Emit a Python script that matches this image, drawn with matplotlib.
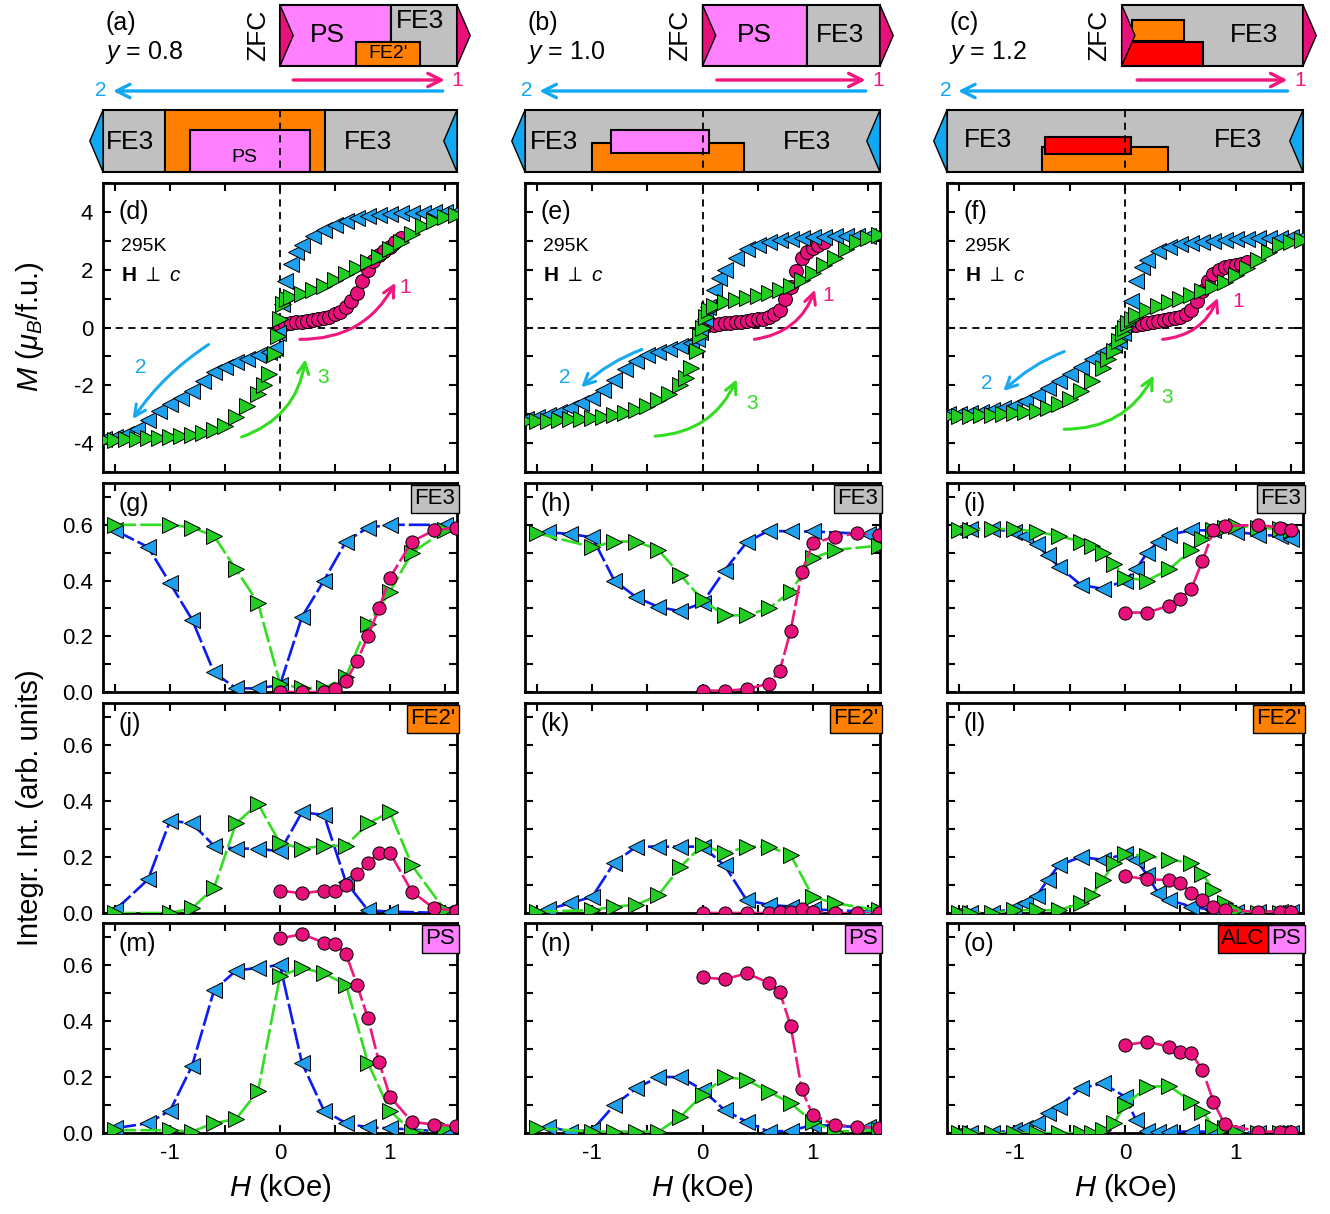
import numpy as np
import matplotlib.pyplot as plt
from matplotlib.patches import Rectangle, Polygon
from matplotlib.ticker import MultipleLocator, FormatStrFormatter

plt.rcParams['font.family'] = ['Liberation Sans', 'DejaVu Sans']
plt.rcParams['mathtext.fontset'] = 'custom'
plt.rcParams['mathtext.rm'] = 'Liberation Sans'
plt.rcParams['mathtext.it'] = 'Liberation Sans:italic'
plt.rcParams['mathtext.bf'] = 'Liberation Sans:bold'
plt.rcParams['axes.unicode_minus'] = False

# ---------------- magnetization loops M(H), panels d, e, f ----------------
H_loop_down = [-1.6, -1.5, -1.4, -1.3, -1.2, -1.1, -1.0, -0.9, -0.8, -0.7, -0.6, -0.5, -0.4,
               -0.3, -0.2, -0.1, -0.05, -0.02, 0.02, 0.05, 0.1, 0.15, 0.2, 0.3, 0.4, 0.5,
               0.6, 0.7, 0.8, 0.9, 1.0, 1.1, 1.2, 1.3, 1.4, 1.5, 1.6]
H_loop_up = [-1.6, -1.5, -1.4, -1.3, -1.2, -1.1, -1.0, -0.9, -0.8, -0.7, -0.6, -0.5, -0.4,
             -0.3, -0.2, -0.15, -0.1, -0.05, -0.02, 0.0, 0.03, 0.06, 0.1, 0.2, 0.3, 0.4,
             0.5, 0.6, 0.7, 0.8, 0.9, 1.0, 1.1, 1.2, 1.3, 1.4, 1.5, 1.6]
H_loop_zfc = [0.0, 0.05, 0.1, 0.15, 0.2, 0.25, 0.3, 0.35, 0.4, 0.45, 0.5, 0.55, 0.6, 0.65,
              0.7, 0.75, 0.8, 0.85, 0.9, 0.95, 1.0, 1.05, 1.1]

M_d_down = [-3.85, -3.78, -3.68, -3.5, -3.2, -2.9, -2.65, -2.45, -2.2, -1.85, -1.55, -1.35,
            -1.2, -1.08, -0.95, -0.85, -0.7, -0.2, 0.8, 1.6, 2.2, 2.6, 2.85, 3.15, 3.38,
            3.55, 3.68, 3.78, 3.85, 3.9, 3.93, 3.95, 3.96, 3.97, 3.98, 4.0, 4.0]
M_d_up = [-3.9, -3.88, -3.87, -3.85, -3.84, -3.82, -3.8, -3.77, -3.72, -3.65, -3.55, -3.4,
          -3.1, -2.7, -2.3, -2.0, -1.6, -0.9, -0.3, 0.3, 0.8, 1.0, 1.05, 1.15, 1.3, 1.45,
          1.65, 1.85, 2.05, 2.25, 2.45, 2.7, 2.95, 3.25, 3.5, 3.7, 3.82, 3.9]
M_d_zfc = [0.05, 0.12, 0.15, 0.18, 0.2, 0.22, 0.25, 0.28, 0.32, 0.38, 0.45, 0.55, 0.7, 0.9,
           1.2, 1.6, 2.0, 2.3, 2.5, 2.65, 2.8, 2.95, 3.1]

M_e_down = [-3.17, -3.1, -3.03, -2.93, -2.78, -2.62, -2.45, -2.15, -1.8, -1.45, -1.15, -0.95,
            -0.85, -0.75, -0.65, -0.55, -0.4, -0.15, 0.3, 0.7, 1.3, 1.7, 2.0, 2.4, 2.7,
            2.85, 2.95, 3.02, 3.07, 3.1, 3.12, 3.14, 3.15, 3.16, 3.17, 3.18, 3.2]
M_e_up = [-3.25, -3.24, -3.22, -3.2, -3.18, -3.15, -3.12, -3.08, -3.02, -2.95, -2.85, -2.7,
          -2.5, -2.3, -2.0, -1.75, -1.4, -0.8, -0.3, 0.0, 0.35, 0.6, 0.75, 0.87, 0.95, 1.02,
          1.1, 1.2, 1.31, 1.45, 1.65, 1.9, 2.15, 2.4, 2.7, 2.95, 3.1, 3.2]
M_e_zfc = [0.05, 0.08, 0.1, 0.12, 0.14, 0.16, 0.18, 0.2, 0.22, 0.25, 0.28, 0.31, 0.36, 0.45,
           0.6, 0.97, 1.4, 1.95, 2.4, 2.6, 2.75, 2.86, 2.95]

M_f_down = [-3.0, -2.98, -2.95, -2.92, -2.87, -2.8, -2.7, -2.55, -2.35, -2.1, -1.85, -1.6,
            -1.35, -1.1, -0.85, -0.6, -0.45, -0.2, 0.3, 0.9, 1.6, 2.1, 2.35, 2.65, 2.8,
            2.88, 2.93, 2.97, 3.0, 3.03, 3.05, 3.07, 3.09, 3.1, 3.11, 3.12, 3.13]
M_f_up = [-3.07, -3.06, -3.05, -3.04, -3.02, -3.0, -2.97, -2.94, -2.9, -2.8, -2.66, -2.47,
          -2.2, -1.85, -1.4, -1.1, -0.8, -0.45, -0.2, 0.0, 0.15, 0.3, 0.42, 0.62, 0.75,
          0.87, 0.98, 1.12, 1.25, 1.4, 1.57, 1.8, 2.07, 2.35, 2.62, 2.85, 2.97, 3.03]
M_f_zfc = [0.05, 0.08, 0.1, 0.13, 0.16, 0.19, 0.22, 0.25, 0.28, 0.32, 0.36, 0.45, 0.6, 0.9,
           1.25, 1.6, 1.85, 2.0, 2.08, 2.13, 2.17, 2.2, 2.25]

# ---------------- integrated intensities, panels g - o ----------------
# field grids per column (descending branch, ascending branch, virgin ZFC branch)
H_down = [[-1.5, -1.2, -1.0, -0.8, -0.6, -0.4, -0.2, 0.0, 0.2, 0.4, 0.6, 0.8, 1.0, 1.5],
          [-1.4, -1.2, -1.0, -0.8, -0.6, -0.4, -0.2, 0.0, 0.2, 0.4, 0.6, 0.8, 1.0, 1.5],
          [-1.5, -1.4, -1.2, -1.0, -0.9, -0.8, -0.7, -0.6, -0.4, -0.2, 0.0, 0.1, 0.2, 0.3,
           0.4, 0.6, 0.8, 1.0, 1.2, 1.4, 1.5]]
H_up = [[-1.5, -1.0, -0.8, -0.6, -0.4, -0.2, 0.0, 0.2, 0.4, 0.6, 0.8, 1.0, 1.2, 1.5],
        [-1.5, -1.0, -0.8, -0.6, -0.4, -0.2, 0.0, 0.2, 0.4, 0.6, 0.8, 1.0, 1.2, 1.6],
        [-1.5, -1.4, -1.2, -1.0, -0.8, -0.6, -0.4, -0.3, -0.2, -0.1, 0.0, 0.2, 0.4, 0.6,
         0.7, 0.8, 0.9, 1.0, 1.2, 1.4, 1.5]]
H_zfc = [[0.0, 0.2, 0.4, 0.5, 0.6, 0.7, 0.8, 0.9, 1.0, 1.2, 1.4, 1.6],
         [0.0, 0.2, 0.4, 0.6, 0.7, 0.8, 0.9, 1.0, 1.2, 1.4, 1.6],
         [0.0, 0.2, 0.4, 0.5, 0.6, 0.7, 0.8, 0.9, 1.2, 1.4, 1.5]]

# FE3 row
I_g_down = [0.58, 0.52, 0.39, 0.26, 0.07, 0.013, 0.013, 0.025, 0.27, 0.40, 0.54, 0.59, 0.60, 0.60]
I_g_up = [0.60, 0.60, 0.59, 0.56, 0.44, 0.32, 0.03, 0.013, 0.013, 0.055, 0.245, 0.36, 0.50, 0.58]
I_g_zfc = [0.0, 0.0, 0.0, 0.01, 0.04, 0.11, 0.20, 0.30, 0.41, 0.54, 0.58, 0.59]
I_h_down = [0.573, 0.567, 0.555, 0.40, 0.34, 0.305, 0.29, 0.32, 0.436, 0.537, 0.579, 0.576, 0.576, 0.567]
I_h_up = [0.57, 0.52, 0.54, 0.54, 0.51, 0.42, 0.33, 0.275, 0.275, 0.30, 0.36, 0.48, 0.51, 0.525]
I_h_zfc = [0.005, 0.005, 0.01, 0.03, 0.076, 0.22, 0.43, 0.533, 0.557, 0.569, 0.564]
I_i_down = [0.58, 0.585, 0.585, 0.575, 0.56, 0.53, 0.49, 0.45, 0.385, 0.37, 0.40, 0.44, 0.50,
            0.54, 0.565, 0.58, 0.58, 0.575, 0.565, 0.56, 0.55]
I_i_up = [0.58, 0.58, 0.585, 0.585, 0.575, 0.56, 0.54, 0.525, 0.50, 0.46, 0.41, 0.40, 0.44,
          0.51, 0.55, 0.58, 0.59, 0.595, 0.59, 0.585, 0.58]
I_i_zfc = [0.285, 0.285, 0.31, 0.335, 0.37, 0.47, 0.58, 0.595, 0.60, 0.59, 0.58]

# FE2' row
I_j_down = [0.01, 0.12, 0.33, 0.32, 0.24, 0.23, 0.23, 0.22, 0.36, 0.35, 0.11, 0.01, 0.005, 0.0]
I_j_up = [0.0, 0.0, 0.017, 0.09, 0.32, 0.39, 0.25, 0.23, 0.24, 0.24, 0.32, 0.36, 0.17, 0.01]
I_j_zfc = [0.08, 0.07, 0.08, 0.08, 0.10, 0.14, 0.18, 0.215, 0.215, 0.076, 0.017, 0.008]
I_k_down = [0.013, 0.035, 0.058, 0.18, 0.237, 0.237, 0.237, 0.237, 0.17, 0.046, 0.029, 0.023, 0.013, 0.005]
I_k_up = [0.005, 0.01, 0.023, 0.029, 0.064, 0.165, 0.243, 0.213, 0.237, 0.237, 0.207, 0.058, 0.035, 0.01]
I_k_zfc = [0.0, 0.0, 0.0, 0.0, 0.005, 0.005, 0.013, 0.005, 0.0, 0.0, 0.0]
I_l_down = [0.0, 0.0, 0.0, 0.017, 0.035, 0.06, 0.118, 0.17, 0.20, 0.19, 0.21, 0.19, 0.136,
            0.07, 0.046, 0.023, 0.01, 0.005, 0.005, 0.005, 0.005]
I_l_up = [0.0, 0.0, 0.0, 0.01, 0.01, 0.01, 0.035, 0.064, 0.118, 0.177, 0.21, 0.204, 0.19,
          0.18, 0.14, 0.082, 0.035, 0.01, 0.0, 0.0, 0.0]
I_l_zfc = [0.132, 0.12, 0.118, 0.106, 0.073, 0.046, 0.023, 0.01, 0.005, 0.005, 0.005]

# PS row (ALC + PS for y = 1.2)
I_m_down = [0.017, 0.035, 0.08, 0.24, 0.51, 0.58, 0.59, 0.60, 0.25, 0.08, 0.035, 0.02, 0.017, 0.005]
I_m_up = [0.01, 0.01, 0.005, 0.035, 0.05, 0.15, 0.56, 0.59, 0.57, 0.53, 0.25, 0.08, 0.005, 0.017]
I_m_zfc = [0.695, 0.71, 0.68, 0.675, 0.64, 0.53, 0.41, 0.255, 0.13, 0.04, 0.03, 0.025]
I_n_down = [0.023, 0.005, 0.01, 0.10, 0.16, 0.20, 0.20, 0.154, 0.082, 0.04, 0.005, 0.008, 0.029, 0.02]
I_n_up = [0.017, 0.005, 0.005, 0.005, 0.005, 0.058, 0.136, 0.20, 0.19, 0.148, 0.106, 0.04, 0.005, 0.01]
I_n_zfc = [0.556, 0.549, 0.57, 0.537, 0.505, 0.382, 0.156, 0.064, 0.029, 0.023, 0.017]
I_o_down = [0.0, 0.0, 0.0, 0.01, 0.017, 0.035, 0.07, 0.094, 0.16, 0.177, 0.13, 0.046, 0.008,
            0.005, 0.005, 0.005, 0.005, 0.005, 0.0, 0.0, 0.0]
I_o_up = [0.0, 0.0, 0.0, 0.0, 0.0, 0.0, 0.0, 0.0, 0.01, 0.035, 0.10, 0.165, 0.168, 0.112,
          0.076, 0.023, 0.017, 0.005, 0.0, 0.0, 0.0]
I_o_zfc = [0.314, 0.326, 0.308, 0.29, 0.285, 0.225, 0.112, 0.032, 0.005, 0.005, 0.005]

# ---------------- schematic phase bars (boundaries in kOe) ----------------
compositions = ['0.8', '1.0', '1.2']
zfc_bounds = [[0.0, 1.01, 1.61], [0.0, 0.95, 1.61], [-0.03, 1.61]]
zfc_phases = [['PS', 'FE3'], ['PS', 'FE3'], ['FE3']]
zfc_insets = [[(0.69, 1.27, "FE2'")], [], [(0.06, 0.53, "FE2'"), (-0.03, 0.71, 'ALC')]]
down_bounds = [[-1.61, -1.05, 0.41, 1.61], [-1.61, 1.61], [-1.61, 1.61]]
down_phases = [['FE3', "FE2'", 'FE3'], ['FE3'], ['FE3']]
down_insets = [[(-0.82, 0.27, 'PS')], [(-1.0, 0.38, "FE2'"), (-0.83, 0.06, 'PS')],
               [(-0.75, 0.39, "FE2'"), (-0.72, 0.05, 'ALC')]]
sweep1 = [(0.12, 1.5), (0.13, 1.48), (0.11, 1.47)]
sweep2 = [(1.48, -1.52), (1.48, -1.48), (1.47, -1.51)]

# ---------------- styling / layout ----------------
phase_color = {'PS': '#ff80ff', 'FE3': '#c0c0c0', "FE2'": '#ff8000', 'ALC': '#ff0000'}
c_pink, c_pink_line = '#e8107a', '#f0187e'
c_blue, c_blue_line = '#1ea0ee', '#0a1cf0'
c_green, c_green_line = '#22cc22', '#33dd22'

W, HP = 1330, 1214
col_px = [(103, 457), (525, 880), (947, 1303)]
row_px = [(183, 472), (483, 692), (703, 913), (923, 1133)]
XLIM = (-1.61, 1.61)

fig = plt.figure(figsize=(13.3, 12.14), dpi=100)


def px_axes(l, t, r, b):
    return fig.add_axes([l / W, 1 - b / HP, (r - l) / W, (b - t) / HP])


def style(ax, left_labels, bottom_labels):
    ax.set_xlim(XLIM)
    ax.xaxis.set_major_locator(MultipleLocator(1))
    ax.xaxis.set_minor_locator(MultipleLocator(0.5))
    ax.tick_params(which='both', direction='in', top=True, right=True, width=1.5,
                   length=6, labelsize=16, labelleft=left_labels,
                   labelbottom=bottom_labels, pad=7)
    for s in ax.spines.values():
        s.set_linewidth(2)


# ---- schematic bars on top ----
TOP_Y = (5, 66)
LOW_Y = (110, 172)
TRI = 0.12
for c in range(3):
    l, r = col_px[c]
    ax = px_axes(l, 0, r, 178)
    ax.set_xlim(XLIM)
    ax.set_ylim(178, 0)
    ax.axis('off')

    ax.text(-1.59, 23, '(' + 'abc'[c] + ')', fontsize=18, va='center', ha='left')
    ax.text(-1.59, 53, '$y$ = ' + compositions[c], fontsize=18, va='center', ha='left')

    # ZFC bar
    b = zfc_bounds[c]
    for i, ph in enumerate(zfc_phases[c]):
        ax.add_patch(Rectangle((b[i], TOP_Y[0]), b[i + 1] - b[i], TOP_Y[1] - TOP_Y[0],
                               fc=phase_color[ph], ec='k', lw=1.5, clip_on=False, zorder=2))
    ins_y = [[(42, 66)], [], [(20, 41), (42, 66)]][c]
    for (h0, h1, ph), (y0, y1) in zip(zfc_insets[c], ins_y):
        ax.add_patch(Rectangle((h0, y0), h1 - h0, y1 - y0, fc=phase_color[ph], ec='k',
                               lw=1.5, clip_on=False, zorder=3))
    ym = (TOP_Y[0] + TOP_Y[1]) / 2
    ax.add_patch(Polygon([(b[0], TOP_Y[0]), (b[0] + TRI, ym), (b[0], TOP_Y[1])],
                         fc=c_pink, ec='k', lw=1, clip_on=False, zorder=4))
    ax.add_patch(Polygon([(b[-1], TOP_Y[0]), (b[-1] + TRI, ym), (b[-1], TOP_Y[1])],
                         fc=c_pink, ec='k', lw=1, clip_on=False, zorder=4))
    ax.text(b[0] - 0.2, ym, 'ZFC', rotation=90, fontsize=19, ha='center', va='center')

    # field sweep arrows
    for (h0, h1), yy, col, lab in [(sweep1[c], 80, c_pink_line, '1'),
                                   (sweep2[c], 91, '#10a8f0', '2')]:
        ax.annotate('', xy=(h1, yy), xytext=(h0, yy),
                    arrowprops=dict(arrowstyle='->', color=col, lw=2.4,
                                    mutation_scale=24, shrinkA=0, shrinkB=0))
        ax.text(h1 + (0.06 if h1 > 0 else -0.06), yy, lab, color=col, fontsize=15,
                ha='left' if h1 > 0 else 'right', va='center')

    # descending-field bar
    b = down_bounds[c]
    for i, ph in enumerate(down_phases[c]):
        ax.add_patch(Rectangle((b[i], LOW_Y[0]), b[i + 1] - b[i], LOW_Y[1] - LOW_Y[0],
                               fc=phase_color[ph], ec='k', lw=1.5, clip_on=False, zorder=2))
    ins_y = [[(130, 172)], [(143, 172), (130, 153)], [(147, 172), (137, 154)]][c]
    for (h0, h1, ph), (y0, y1) in zip(down_insets[c], ins_y):
        ax.add_patch(Rectangle((h0, y0), h1 - h0, y1 - y0, fc=phase_color[ph], ec='k',
                               lw=1.5, clip_on=False, zorder=3))
    ym = (LOW_Y[0] + LOW_Y[1]) / 2
    ax.add_patch(Polygon([(b[0], LOW_Y[0]), (b[0] - TRI, ym), (b[0], LOW_Y[1])],
                         fc='#10a8f0', ec='k', lw=1, clip_on=False, zorder=4))
    ax.add_patch(Polygon([(b[-1], LOW_Y[0]), (b[-1] - TRI, ym), (b[-1], LOW_Y[1])],
                         fc='#10a8f0', ec='k', lw=1, clip_on=False, zorder=4))
    ax.plot([0, 0], LOW_Y, color='k', lw=1.3, ls=(0, (4, 3)), zorder=5, clip_on=False)

# text inside the bars
bar_text = [
    [(0.43, 35, 'PS', 19), (1.27, 21, 'FE3', 19), (0.98, 54, "FE2'", 14),
     (-1.36, 142, 'FE3', 19), (0.8, 142, 'FE3', 19), (-0.32, 157, 'PS', 14)],
    [(0.47, 35, 'PS', 19), (1.25, 35, 'FE3', 19), (-1.35, 142, 'FE3', 19), (0.95, 142, 'FE3', 19)],
    [(1.17, 35, 'FE3', 19), (-1.24, 140, 'FE3', 19), (1.02, 140, 'FE3', 19)],
]
for c, ax in enumerate(fig.axes[:3]):
    for h, yy, s, fs in bar_text[c]:
        ax.text(h, yy, s, fontsize=fs, ha='center', va='center', zorder=6)

# ---- M(H) loops ----
M_down = [M_d_down, M_e_down, M_f_down]
M_up = [M_d_up, M_e_up, M_f_up]
M_zfc = [M_d_zfc, M_e_zfc, M_f_zfc]
arrow1 = [((0.18, -0.41), (1.05, 1.55)), ((0.47, -0.41), (1.02, 1.31)), ((0.34, -0.41), (0.84, 1.03))]
arrow2 = [((-0.65, -0.59), (-1.34, -3.17)), ((-0.55, -0.76), (-1.1, -2.07)), ((-0.55, -0.83), (-1.1, -2.2))]
arrow3 = [((-0.35, -3.79), (0.23, -1.1)), ((-0.43, -3.76), (0.31, -1.79)), ((-0.55, -3.52), (0.26, -1.66))]
lab1 = [(1.14, 1.38), (1.14, 1.1), (1.02, 0.9)]
lab2 = [(-1.27, -1.38), (-1.25, -1.72), (-1.25, -1.93)]
lab3 = [(0.39, -1.72), (0.45, -2.62), (0.38, -2.41)]

for c in range(3):
    l, r = col_px[c]
    ax = px_axes(l, row_px[0][0], r, row_px[0][1])
    style(ax, c == 0, False)
    ax.set_ylim(-5, 5)
    ax.yaxis.set_major_locator(MultipleLocator(2))
    ax.yaxis.set_minor_locator(MultipleLocator(1))
    ax.axhline(0, color='k', lw=1.3, ls=(0, (4, 3)), zorder=1)
    ax.axvline(0, color='k', lw=1.3, ls=(0, (4, 3)), zorder=1)
    ax.plot(H_loop_zfc, M_zfc[c], 'o', ms=10, mfc=c_pink, mec='k', mew=0.7, zorder=3)
    ax.plot(H_loop_down, M_down[c], '<', ms=11.5, mfc=c_blue, mec='k', mew=0.7, zorder=3)
    ax.plot(H_loop_up, M_up[c], '>', ms=11.5, mfc=c_green, mec='k', mew=0.7, zorder=3)
    for (p0, p1), rad, col in [(arrow1[c], 0.3, c_pink_line), (arrow2[c], 0.1, '#1aa8f0'),
                               (arrow3[c], 0.3, c_green_line)]:
        ax.annotate('', xy=p1, xytext=p0,
                    arrowprops=dict(arrowstyle='->', color=col, lw=2.2, mutation_scale=20,
                                    connectionstyle='arc3,rad=%.2f' % rad, shrinkA=0, shrinkB=0))
    for (x, y), s, col in [(lab1[c], '1', c_pink_line), (lab2[c], '2', '#1aa8f0'),
                           (lab3[c], '3', c_green_line)]:
        ax.text(x, y, s, color=col, fontsize=15, ha='center', va='center')
    ax.text(0.045, 0.9, '(' + 'def'[c] + ')', transform=ax.transAxes, fontsize=18, va='center')
    ax.text(0.05, 0.78, '295K', transform=ax.transAxes, fontsize=14, va='center')
    ax.text(0.05, 0.68, r'$\mathbf{H}\ \perp\ c$', transform=ax.transAxes, fontsize=15,
            va='center')

# ---- intensity panels ----
rows = [
    ('FE3', [(I_g_down, I_g_up, I_g_zfc), (I_h_down, I_h_up, I_h_zfc), (I_i_down, I_i_up, I_i_zfc)]),
    ("FE2'", [(I_j_down, I_j_up, I_j_zfc), (I_k_down, I_k_up, I_k_zfc), (I_l_down, I_l_up, I_l_zfc)]),
    ('PS', [(I_m_down, I_m_up, I_m_zfc), (I_n_down, I_n_up, I_n_zfc), (I_o_down, I_o_up, I_o_zfc)]),
]
letters = 'ghijklmno'
dash = (0, (8, 1.5))
for ri, (phase, series) in enumerate(rows):
    t, bt = row_px[ri + 1]
    for c in range(3):
        l, r = col_px[c]
        ax = px_axes(l, t, r, bt)
        style(ax, c == 0, ri == 2)
        ax.set_ylim(0, 0.75)
        ax.yaxis.set_major_locator(MultipleLocator(0.2))
        ax.yaxis.set_minor_locator(MultipleLocator(0.1))
        ax.yaxis.set_major_formatter(FormatStrFormatter('%.1f'))
        down, up, zfc = series[c]
        ax.plot(H_down[c], down, ls=dash, color=c_blue_line, lw=1.9, marker='<', ms=11,
                mfc=c_blue, mec='k', mew=0.7, zorder=3)
        ax.plot(H_up[c], up, ls=dash, color=c_green_line, lw=1.9, marker='>', ms=11,
                mfc=c_green, mec='k', mew=0.7, zorder=4)
        ax.plot(H_zfc[c], zfc, ls=dash, color=c_pink_line, lw=1.9, marker='o', ms=9.5,
                mfc=c_pink, mec='k', mew=0.7, zorder=5)
        ax.text(0.045, 0.9, '(' + letters[ri * 3 + c] + ')', transform=ax.transAxes,
                fontsize=18, va='center')
        box = dict(boxstyle='square,pad=0.15', ec='k', lw=1)
        if ri == 2 and c == 2:
            ax.text(0.995, 0.975, 'PS', transform=ax.transAxes, fontsize=16, ha='right',
                    va='top', bbox=dict(box, fc=phase_color['PS']), zorder=6)
            ax.text(0.892, 0.975, 'ALC', transform=ax.transAxes, fontsize=16, ha='right',
                    va='top', bbox=dict(box, fc=phase_color['ALC']), zorder=6)
        else:
            ax.text(0.995, 0.975, phase, transform=ax.transAxes, fontsize=16, ha='right',
                    va='top', bbox=dict(box, fc=phase_color[phase]), zorder=6)
        if ri == 2:
            ax.set_xlabel(r'$H$ (kOe)', fontsize=21, labelpad=6)

fig.text(30 / W, 1 - 327 / HP, r'$M$ ($\mu_B$/f.u.)', rotation=90, fontsize=21,
         ha='center', va='center')
fig.text(30 / W, 1 - 808 / HP, 'Integr. Int. (arb. units)', rotation=90, fontsize=21,
         ha='center', va='center')

fig.savefig('out.png', dpi=100)
